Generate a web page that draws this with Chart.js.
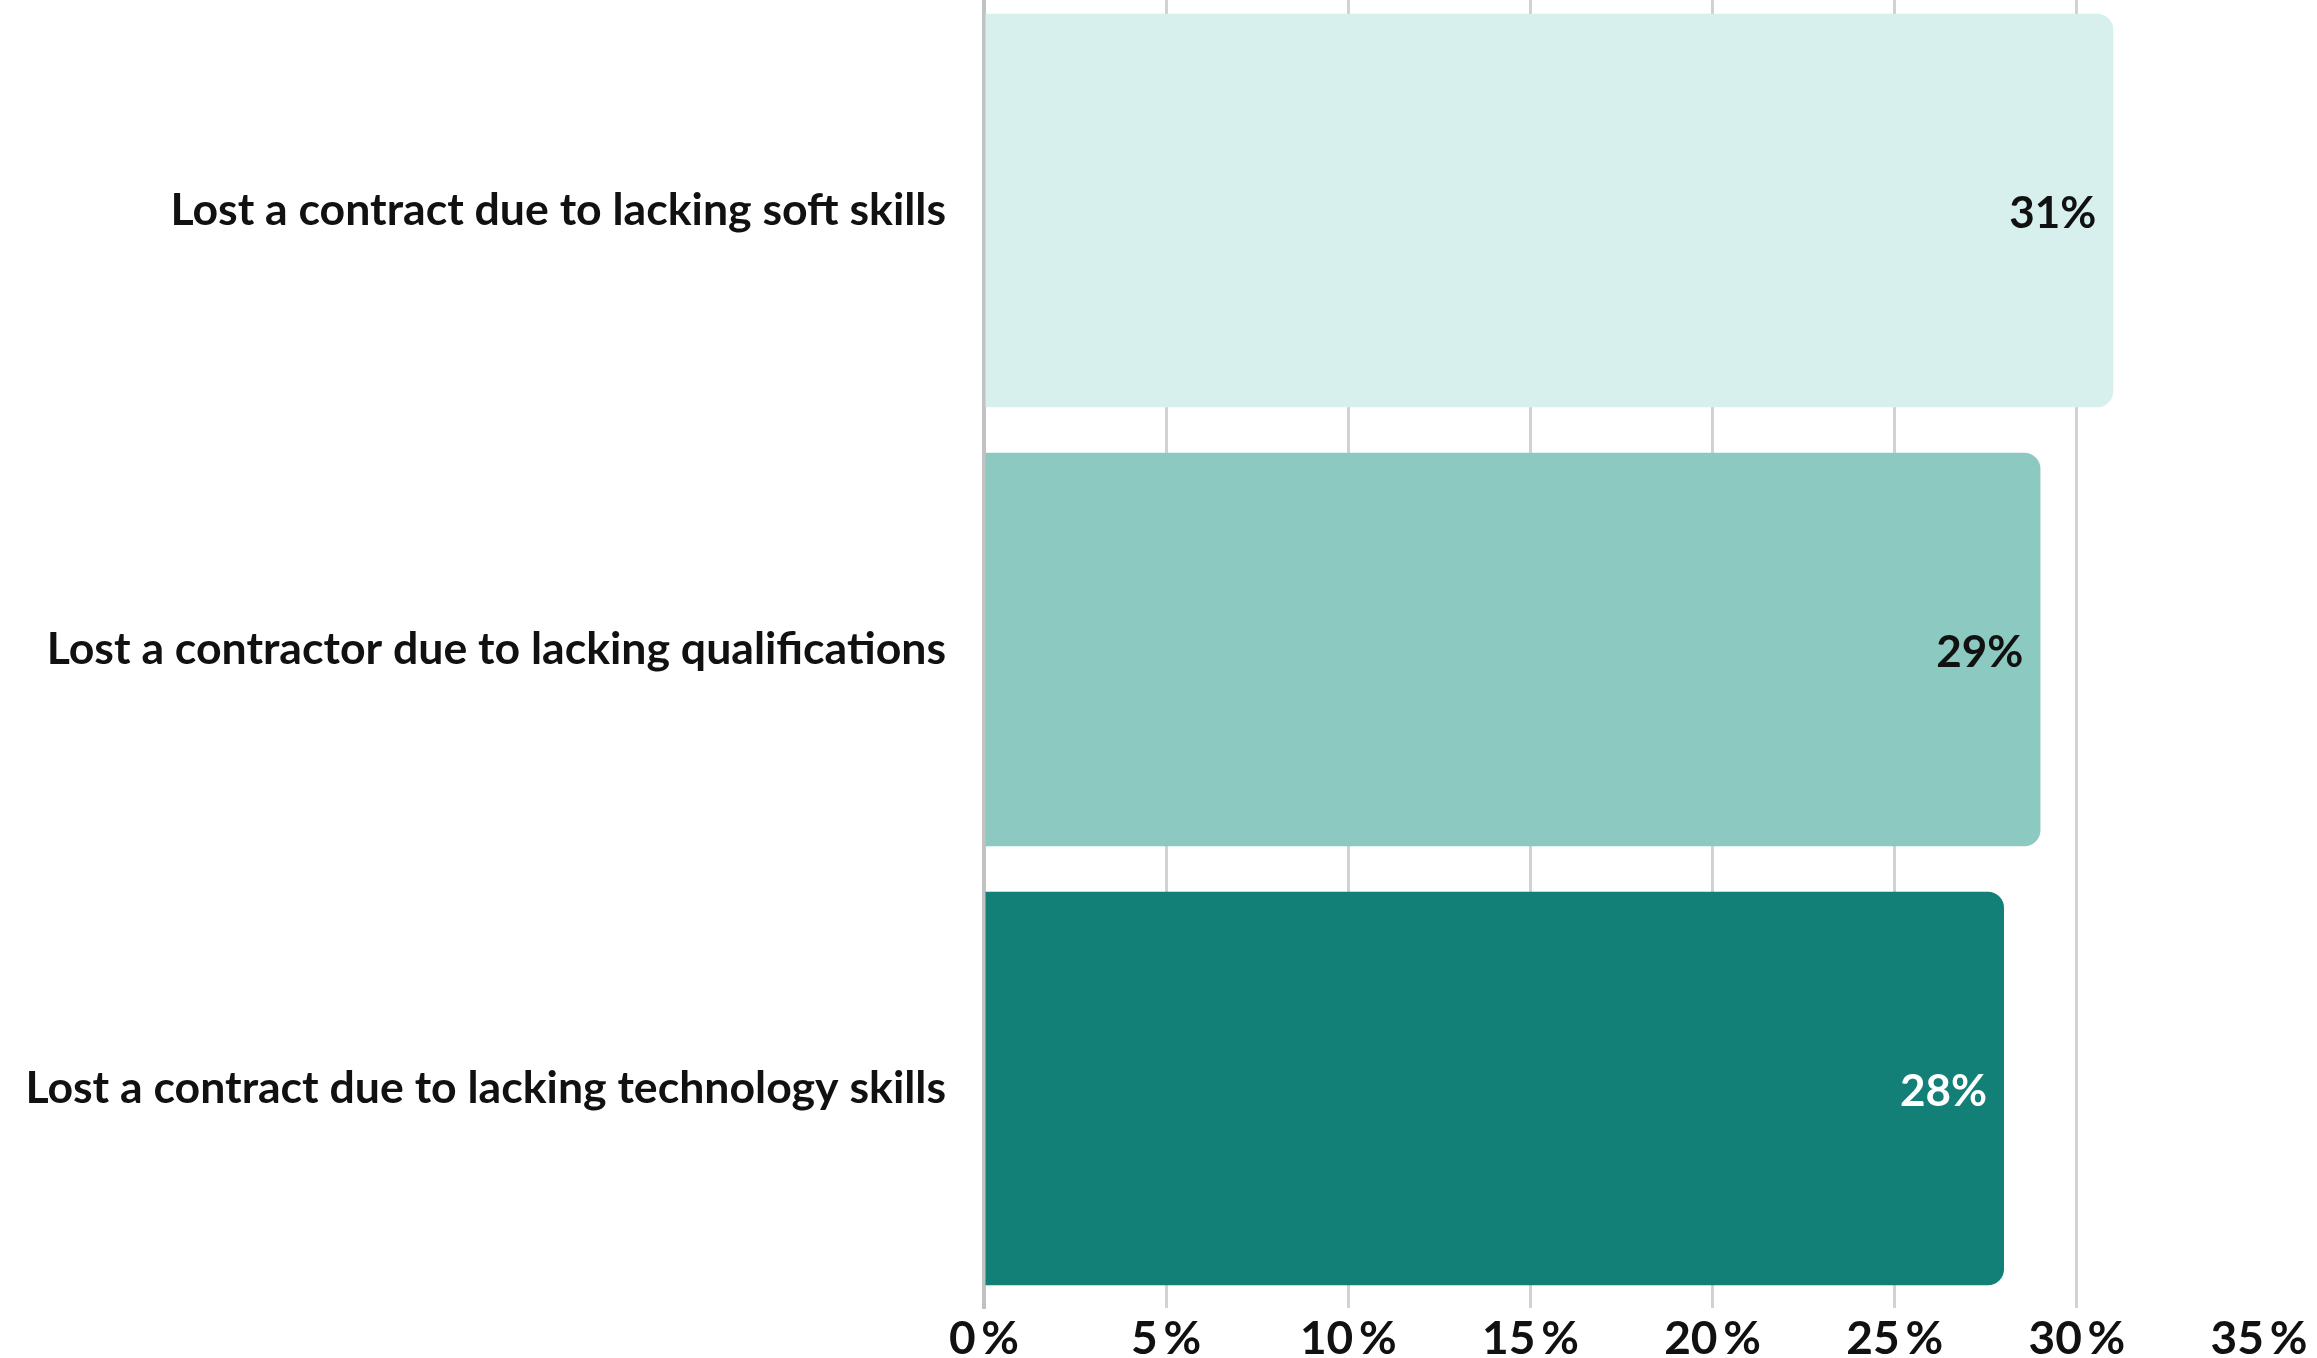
<!DOCTYPE html>
<html>
<head>
<meta charset="utf-8">
<script src="https://cdn.jsdelivr.net/npm/chart.js@4.4.0/dist/chart.umd.min.js"></script>
<style>
  html, body { margin: 0; padding: 0; background: #fff; overflow: hidden; }
  #wrap { position: absolute; left: 0; top: -9px; width: 2317px; height: 1367px; }
</style>
</head>
<body>
<div id="wrap"><canvas id="myChart"></canvas></div>
<script>
// data
const categories = [
  "Lost a contract due to lacking soft skills",
  "Lost a contractor due to lacking qualifications",
  "Lost a contract due to lacking technology skills"
];
const values = [31, 29, 28];
const tickValues = [0, 5, 10, 15, 20, 25, 30, 35];

// styles
const barColors = ["#d8f0ed", "#8bc9c1", "#138078"];
const labelColors = ["#111111", "#111111", "#ffffff"];

// value labels drawn inside the bar end
const valueLabels = {
  id: "valueLabels",
  afterDatasetsDraw(chart) {
    const ctx = chart.ctx;
    const meta = chart.getDatasetMeta(0);
    ctx.save();
    ctx.font = "bold 44px Lato";
    ctx.textAlign = "right";
    ctx.textBaseline = "middle";
    meta.data.forEach((bar, i) => {
      ctx.fillStyle = labelColors[i];
      ctx.fillText(values[i] + "%", bar.x - 17, bar.y + 3);
    });
    ctx.restore();
  }
};

const config = {
  type: "bar",
  data: {
    labels: categories,
    datasets: [
      {
        data: values,
        backgroundColor: barColors,
        borderWidth: 0,
        borderRadius: 16,
        borderSkipped: "start",
        barPercentage: 0.896,
        categoryPercentage: 1
      }
    ]
  },
  options: {
    indexAxis: "y",
    responsive: true,
    maintainAspectRatio: false,
    animation: false,
    layout: { padding: { top: 0, right: 58, left: 0, bottom: 0 } },
    plugins: {
      legend: { display: false },
      tooltip: { enabled: false }
    },
    scales: {
      x: {
        min: 0,
        max: 35,
        afterBuildTicks: (scale) => {
          scale.ticks = tickValues.map(v => ({ value: v }));
        },
        afterFit: (scale) => { scale.height = 50; },
        grid: {
          color: (c) => (c.tick && (c.tick.value === 0 || c.tick.value === 35)) ? "rgba(0,0,0,0)" : "#d2d2d2",
          lineWidth: 3,
          drawTicks: false
        },
        border: { display: false },
        ticks: {
          padding: 4,
          color: "#111111",
          font: { family: "Lato", size: 46, weight: "bold" },
          callback: (v) => v + "\u2009%"
        }
      },
      y: {
        afterFit: (scale) => {
          scale.width = 984;
          scale.paddingTop = 0;
          scale.paddingBottom = 0;
        },
        grid: { display: false, drawTicks: false },
        border: { display: true, color: "#c2c2c2", width: 4 },
        ticks: {
          padding: 38,
          color: "#111111",
          font: { family: "Lato", size: 44.6, weight: "bold" }
        }
      }
    }
  },
  plugins: [valueLabels]
};

var myChart = new Chart(document.getElementById("myChart"), config);
</script>
</body>
</html>
